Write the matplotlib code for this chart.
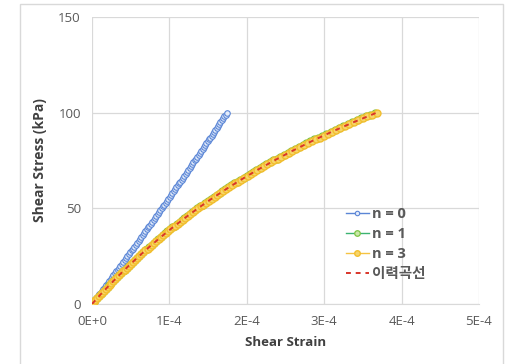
import matplotlib
matplotlib.use("Agg")
import matplotlib.pyplot as plt
from matplotlib.patches import Rectangle

plt.rcParams['font.family'] = ['Open Sans', 'Noto Sans CJK KR', 'DejaVu Sans']

# Shear stress load steps (kPa)
stress = list(range(0, 101))

# Shear strain (x1e-4) for each series
strain_n0 = [0.000, 0.019, 0.037, 0.056, 0.074, 0.093, 0.111, 0.129, 0.148, 0.166,
             0.185, 0.203, 0.221, 0.240, 0.258, 0.276, 0.294, 0.313, 0.331, 0.349,
             0.367, 0.385, 0.403, 0.421, 0.439, 0.457, 0.475, 0.493, 0.511, 0.529,
             0.547, 0.565, 0.583, 0.601, 0.618, 0.636, 0.654, 0.672, 0.689, 0.707,
             0.725, 0.742, 0.760, 0.777, 0.795, 0.813, 0.830, 0.848, 0.865, 0.883,
             0.900, 0.917, 0.935, 0.952, 0.969, 0.987, 1.004, 1.021, 1.039, 1.056,
             1.073, 1.090, 1.107, 1.125, 1.142, 1.159, 1.176, 1.193, 1.210, 1.227,
             1.244, 1.261, 1.278, 1.295, 1.311, 1.328, 1.345, 1.362, 1.379, 1.395,
             1.412, 1.429, 1.446, 1.462, 1.479, 1.495, 1.512, 1.529, 1.545, 1.562,
             1.578, 1.595, 1.611, 1.628, 1.644, 1.660, 1.677, 1.693, 1.709, 1.726,
             1.742]

strain_n1 = [0.000, 0.022, 0.044, 0.066, 0.088, 0.111, 0.133, 0.156, 0.179, 0.203,
             0.226, 0.250, 0.274, 0.298, 0.322, 0.347, 0.371, 0.396, 0.421, 0.447,
             0.472, 0.498, 0.524, 0.551, 0.577, 0.604, 0.631, 0.658, 0.686, 0.714,
             0.742, 0.770, 0.798, 0.827, 0.856, 0.886, 0.915, 0.945, 0.975, 1.006,
             1.037, 1.068, 1.099, 1.131, 1.163, 1.195, 1.228, 1.261, 1.294, 1.328,
             1.362, 1.397, 1.431, 1.466, 1.502, 1.538, 1.574, 1.611, 1.648, 1.685,
             1.723, 1.761, 1.799, 1.839, 1.878, 1.918, 1.958, 1.999, 2.040, 2.082,
             2.124, 2.167, 2.210, 2.254, 2.298, 2.343, 2.388, 2.434, 2.480, 2.527,
             2.574, 2.622, 2.671, 2.720, 2.770, 2.820, 2.871, 2.923, 2.975, 3.028,
             3.082, 3.136, 3.191, 3.247, 3.304, 3.361, 3.419, 3.478, 3.538, 3.598,
             3.659]

strain_n3 = [0.000, 0.022, 0.044, 0.066, 0.089, 0.111, 0.134, 0.157, 0.181, 0.204,
             0.228, 0.251, 0.275, 0.300, 0.324, 0.349, 0.374, 0.399, 0.424, 0.450,
             0.475, 0.501, 0.528, 0.554, 0.581, 0.608, 0.635, 0.662, 0.690, 0.718,
             0.746, 0.774, 0.803, 0.832, 0.862, 0.891, 0.921, 0.951, 0.981, 1.012,
             1.043, 1.074, 1.106, 1.138, 1.170, 1.203, 1.236, 1.269, 1.302, 1.336,
             1.370, 1.405, 1.440, 1.475, 1.511, 1.547, 1.583, 1.620, 1.657, 1.695,
             1.733, 1.771, 1.810, 1.850, 1.889, 1.929, 1.970, 2.011, 2.053, 2.094,
             2.137, 2.180, 2.223, 2.267, 2.312, 2.357, 2.402, 2.448, 2.495, 2.542,
             2.590, 2.638, 2.687, 2.736, 2.786, 2.837, 2.888, 2.940, 2.993, 3.046,
             3.100, 3.155, 3.210, 3.267, 3.323, 3.381, 3.440, 3.499, 3.559, 3.620,
             3.681]

# Hysteresis curve (이력곡선)
hyst_stress = [0, 5, 10, 15, 20, 25, 30, 35, 40, 45, 50, 55, 60, 65, 70, 75, 80, 85, 90, 95, 100]
hyst_strain = [0.000, 0.111, 0.228, 0.349, 0.475, 0.607, 0.745, 0.890, 1.042, 1.201, 1.368,
               1.545, 1.731, 1.927, 2.134, 2.354, 2.587, 2.834, 3.097, 3.378, 3.678]

series_labels = ["n = 0", "n = 1", "n = 3", "이력곡선"]
x_ticks = [0, 1, 2, 3, 4, 5]
x_tick_labels = ["0E+0", "1E-4", "2E-4", "3E-4", "4E-4", "5E-4"]
y_ticks = [0, 50, 100, 150]

SCALE = 1e-4

fig = plt.figure(figsize=(5.08, 3.64), dpi=100)
fig.patch.set_facecolor("white")
fig.add_artist(Rectangle((20 / 508, -0.02), (503 - 20) / 508, 1 - 4 / 364 + 0.02,
                         transform=fig.transFigure, fill=False,
                         edgecolor="#d9d9d9", linewidth=1.0))

ax = fig.add_axes([92 / 508, 1 - 304 / 364, (479 - 92) / 508, (304 - 17) / 364])

ax.plot([v * SCALE for v in strain_n0], stress, color="#5B86D6", linewidth=1.0,
        marker="o", markersize=4, markerfacecolor="#E4ECFA", markeredgecolor="#5B86D6",
        markeredgewidth=0.8, label=series_labels[0], zorder=3)
ax.plot([v * SCALE for v in strain_n1], stress, color="#3CB371", linewidth=1.0,
        marker="o", markersize=5, markerfacecolor="#C9E8A8", markeredgecolor="#7CC444",
        markeredgewidth=0.9, label=series_labels[1], zorder=3)
ax.plot([v * SCALE for v in strain_n3], stress, color="#F5C342", linewidth=1.0,
        marker="o", markersize=5, markerfacecolor="#F7D56A", markeredgecolor="#F2BE2E",
        markeredgewidth=1.0, label=series_labels[2], zorder=4)
ax.plot([v * SCALE for v in hyst_strain], hyst_stress, color="#D9352A", linewidth=1.4,
        linestyle=(0, (2.5, 2.5)), label=series_labels[3], zorder=5)

ax.set_xlim(0, 5 * SCALE)
ax.set_ylim(0, 150)
ax.set_xticks([t * SCALE for t in x_ticks])
ax.set_xticklabels(x_tick_labels)
ax.set_yticks(y_ticks)

ax.grid(True, color="#d9d9d9", linewidth=0.9)
ax.set_axisbelow(True)
for side in ["top", "right", "left"]:
    ax.spines[side].set_visible(False)
ax.spines["bottom"].set_color("#d9d9d9")
ax.tick_params(axis="x", length=0, labelsize=9.5, labelcolor="#595959", pad=8)
ax.tick_params(axis="y", length=0, labelsize=9.5, labelcolor="#595959", pad=8)

ax.set_xlabel("Shear Strain", fontsize=9.5, fontweight="bold", color="#404040", labelpad=6)
ax.set_ylabel("Shear Stress (kPa)", fontsize=10, fontweight="bold", color="#404040", labelpad=8)

leg = ax.legend(loc="upper left", bbox_to_anchor=(0.64, 0.358), frameon=False,
                fontsize=10.5, handlelength=1.6, handletextpad=0.25, labelspacing=0.42,
                borderaxespad=0, markerscale=0.8)
for t in leg.get_texts():
    t.set_color("#595959")
    t.set_fontweight("bold")

fig.savefig("out.png", dpi=100)
